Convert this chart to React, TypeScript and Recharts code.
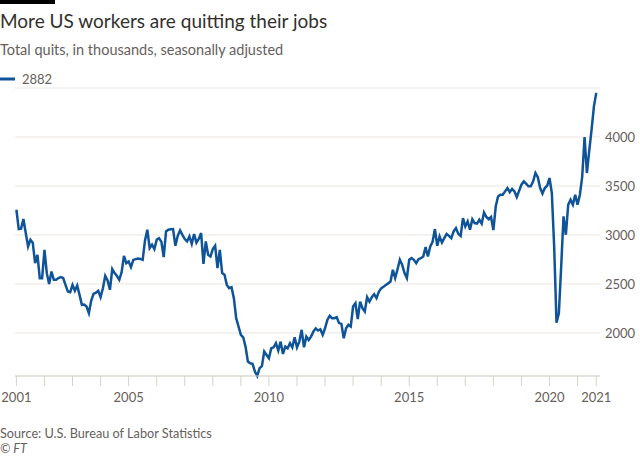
import { LineChart, Line, XAxis, YAxis, CartesianGrid } from "recharts";

// Total quits, thousands, seasonally adjusted, monthly from Jan 2001
const quits: number[] = [
  3257, 3060, 3065, 3162, 3019, 2882, 2950, 2920, 2712, 2797, 2559, 2559,
  2848, 2610, 2498, 2627, 2542, 2542, 2560, 2569, 2560, 2490, 2422, 2415,
  2490, 2430, 2483, 2388, 2286, 2290, 2269, 2201, 2330, 2398, 2410, 2430,
  2365, 2455, 2582, 2535, 2440, 2651, 2610, 2580, 2542, 2620, 2787, 2712,
  2730, 2671, 2745, 2753, 2760, 2755, 2746, 2944, 3053, 2866, 2900, 2855,
  2950, 2967, 2932, 2774, 3036, 3053, 3058, 3060, 2889, 2991, 3046, 3000,
  2958, 2935, 2985, 2910, 3010, 2922, 2960, 3019, 2705, 2933, 2797, 2780,
  2855, 2889, 2661, 2848, 2610, 2593, 2490, 2457, 2467, 2355, 2150, 2065,
  1980, 1955, 1860, 1707, 1690, 1685, 1605, 1560, 1640, 1660, 1809, 1775,
  1741, 1843, 1853, 1895, 1820, 1911, 1785, 1860, 1843, 1895, 1853, 1956,
  1853, 1911, 2031, 1853, 1962, 1928, 1962, 2013, 2047, 2024, 2037, 1980,
  2047, 2133, 2174, 2150, 2150, 2160, 2100, 2092, 1946, 2047, 2082, 2065,
  2269, 2303, 2140, 2320, 2252, 2218, 2365, 2320, 2365, 2395, 2355, 2420,
  2455, 2470, 2490, 2505, 2525, 2644, 2560, 2650, 2746, 2695, 2610, 2560,
  2746, 2763, 2746, 2712, 2753, 2763, 2780, 2876, 2780, 2882, 2930, 3060,
  2889, 2984, 2922, 2967, 3011, 2990, 2967, 3036, 3070, 3011, 2990, 3172,
  3087, 3138, 3053, 3160, 3121, 3115, 3155, 3115, 3230, 3183, 3160, 3183,
  3050, 3290, 3393, 3410, 3410, 3445, 3479, 3436, 3470, 3445, 3387, 3450,
  3513, 3547, 3523, 3497, 3497, 3547, 3632, 3590, 3479, 3422, 3479, 3502,
  3581, 3428, 2882, 2105, 2201, 2678, 3189, 3002, 3308, 3360, 3308, 3410,
  3308, 3410, 3597, 4000, 3632, 3860, 4075, 4313, 4450,
];

const startYear = 2001;
const yTicks = [2000, 2500, 3000, 3500, 4000];
const xTicks = [
  2001, 2002, 2003, 2004, 2005, 2006, 2007, 2008, 2009, 2010, 2011, 2012,
  2013, 2014, 2015, 2016, 2017, 2018, 2019, 2020, 2021, 2021.667,
];
const labelledYears = [2001, 2005, 2010, 2015, 2020];

const data = quits.map((v, i) => ({ t: startYear + i / 12, quits: v }));

const font = "Lato, 'Open Sans', sans-serif";
const grey = "#66605c";

export default function App() {
  return (
    <div
      style={{
        position: "absolute",
        left: 0,
        top: 0,
        width: 640,
        height: 457,
        background: "#fff",
        fontFamily: font,
      }}
    >
      <LineChart
        width={640}
        height={457}
        data={data}
        margin={{ top: 88, right: 0, bottom: 51, left: 15 }}
      >
        <CartesianGrid vertical={false} stroke="#ebe5e0" />
        <XAxis
          dataKey="t"
          type="number"
          domain={[2000.95, 2021.8]}
          ticks={xTicks}
          interval={0}
          height={30}
          tickSize={10}
          tickMargin={7}
          axisLine={{ stroke: "#d9d1ca" }}
          tickLine={{ stroke: "#d9d1ca" }}
          tick={{ fill: grey, fontSize: 13, fontFamily: font }}
          tickFormatter={(v: number) =>
            v > 2021.5 ? "2021" : labelledYears.includes(v) ? String(v) : ""
          }
        />
        <YAxis
          orientation="right"
          width={40}
          domain={[1560, 4500]}
          ticks={yTicks}
          axisLine={false}
          tickLine={false}
          tickSize={0}
          tickMargin={5}
          tick={{ fill: grey, fontSize: 13, fontFamily: font }}
        />
        <Line
          type="linear"
          dataKey="quits"
          stroke="#0f5499"
          strokeWidth={2.5}
          dot={false}
          isAnimationActive={false}
        />
      </LineChart>
      <svg
        width={640}
        height={457}
        style={{ position: "absolute", left: 0, top: 0, pointerEvents: "none" }}
      >
        <rect x={0} y={0} width={55} height={4} fill="#000" />
        <text x={0} y={27.5} fontSize={19} fill="#33302e" fontFamily={font}>
          More US workers are quitting their jobs
        </text>
        <text x={0} y={55} fontSize={14.5} fill={grey} fontFamily={font}>
          Total quits, in thousands, seasonally adjusted
        </text>
        <line x1={0} x2={15} y1={79} y2={79} stroke="#0f5499" strokeWidth={3} />
        <text x={22} y={83.5} fontSize={13} fill={grey} fontFamily={font}>
          2882
        </text>
        <text x={0} y={437.5} fontSize={12.7} fill={grey} fontFamily={font}>
          Source: U.S. Bureau of Labor Statistics
        </text>
        <text
          x={0}
          y={453}
          fontSize={12.5}
          fill={grey}
          fontStyle="italic"
          fontFamily={font}
        >
          © FT
        </text>
      </svg>
    </div>
  );
}
